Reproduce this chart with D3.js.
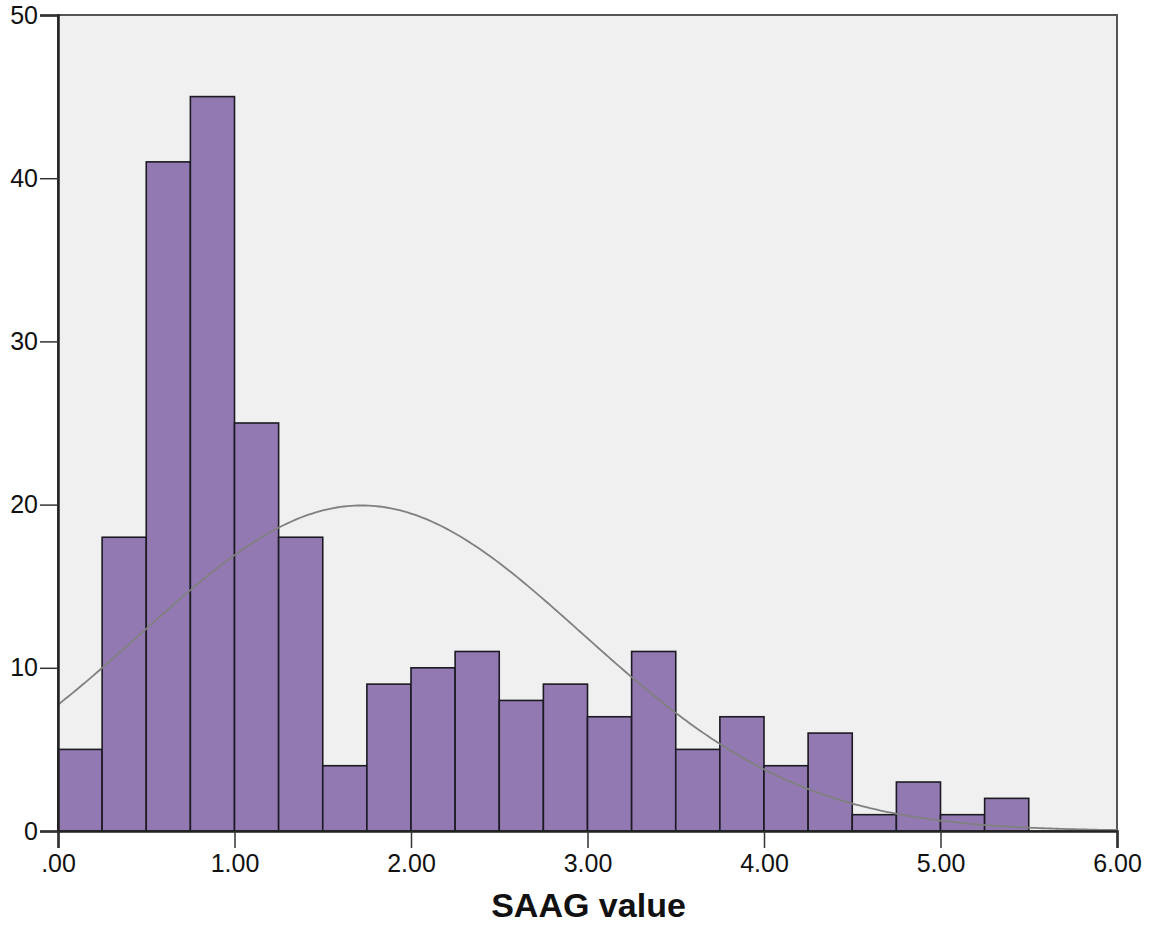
<!DOCTYPE html>
<html>
<head>
<meta charset="utf-8">
<script src="https://cdn.jsdelivr.net/npm/d3@7"></script>
<style>
  body { margin: 0; background: #fff; }
  svg { display: block; font-family: "Liberation Sans", Arial, sans-serif; }
</style>
</head>
<body>
<div id="wrapper"></div>
<script>
// histogram bins (lower edges) and their counts
const binStarts = [0, 0.25, 0.5, 0.75, 1.0, 1.25, 1.5, 1.75, 2.0, 2.25, 2.5,
  2.75, 3.0, 3.25, 3.5, 3.75, 4.0, 4.25, 4.5, 4.75, 5.0, 5.25]
const counts = [5, 18, 41, 45, 25, 18, 4, 9, 10, 11, 8, 9, 7, 11, 5, 7, 4, 6, 1, 3, 1, 2]
const binWidth = 0.25
const xTicks = [0, 1, 2, 3, 4, 5, 6]
const yTicks = [0, 10, 20, 30, 40, 50]
// fitted normal curve
const fitMean = 1.72
const fitSd = 1.25

const dimensions = {
  width: 1154,
  height: 926,
  margin: { top: 15, right: 37, bottom: 95, left: 58 }
}
dimensions.boundedWidth = dimensions.width - dimensions.margin.left - dimensions.margin.right
dimensions.boundedHeight = dimensions.height - dimensions.margin.top - dimensions.margin.bottom

const svg = d3.select("#wrapper")
  .append("svg")
  .attr("width", dimensions.width)
  .attr("height", dimensions.height)

const bounds = svg.append("g")
  .attr("transform", `translate(${dimensions.margin.left},${dimensions.margin.top})`)

const xScale = d3.scaleLinear()
  .domain([0, 6])
  .range([0, dimensions.boundedWidth])

const yScale = d3.scaleLinear()
  .domain([0, 50])
  .range([dimensions.boundedHeight, 0])

// plot background
bounds.append("rect")
  .attr("width", dimensions.boundedWidth)
  .attr("height", dimensions.boundedHeight)
  .attr("fill", "#f0f0f0")
  .attr("stroke", "#555")
  .attr("stroke-width", 2)

const total = d3.sum(counts)
const bins = binStarts.map((x0, i) => ({ x0, value: counts[i] }))

bounds.selectAll(".bar")
  .data(bins)
  .enter()
  .append("rect")
    .attr("class", "bar")
    .attr("x", d => xScale(d.x0))
    .attr("y", d => yScale(d.value))
    .attr("width", xScale(binWidth) - xScale(0))
    .attr("height", d => dimensions.boundedHeight - yScale(d.value))
    .attr("fill", "#9279b1")
    .attr("stroke", "#1c1a22")
    .attr("stroke-width", 1.6)

// normal curve scaled to counts
const curveXs = d3.range(0, 6.0001, 0.02)
const curvePts = curveXs.map(x => [x,
  total * binWidth / (fitSd * Math.sqrt(2 * Math.PI)) *
  Math.exp(-((x - fitMean) ** 2) / (2 * fitSd * fitSd))])

bounds.append("path")
  .datum(curvePts)
  .attr("fill", "none")
  .attr("stroke", "#808080")
  .attr("stroke-width", 1.8)
  .attr("d", d3.line().x(d => xScale(d[0])).y(d => yScale(d[1])))

// axes
const yAxis = bounds.append("g")
  .call(d3.axisLeft(yScale).tickValues(yTicks).tickSize(18).tickPadding(2).tickFormat(d3.format("d")))
yAxis.select(".domain").attr("stroke", "#222").attr("stroke-width", 2.5)
yAxis.selectAll(".tick line").attr("stroke", "#333").attr("stroke-width", 1.5)
yAxis.selectAll("text").attr("font-size", 25).attr("fill", "#111")
  .attr("font-family", "Liberation Sans, Arial, sans-serif")

const xAxis = bounds.append("g")
  .attr("transform", `translate(0,${dimensions.boundedHeight})`)
  .call(d3.axisBottom(xScale).tickValues(xTicks).tickSize(17).tickPadding(6)
    .tickFormat(d => d === 0 ? ".00" : d3.format(".2f")(d)))
xAxis.select(".domain").attr("stroke", "#222").attr("stroke-width", 2.5)
xAxis.selectAll(".tick line").attr("stroke", "#333").attr("stroke-width", 1.5)
xAxis.selectAll("text").attr("font-size", 25).attr("fill", "#111")
  .attr("font-family", "Liberation Sans, Arial, sans-serif")

bounds.append("text")
  .attr("x", xScale(3) + 1)
  .attr("y", dimensions.boundedHeight + 86)
  .attr("text-anchor", "middle")
  .attr("font-size", 34)
  .attr("font-weight", "bold")
  .attr("fill", "#111")
  .text("SAAG value")
</script>
</body>
</html>
